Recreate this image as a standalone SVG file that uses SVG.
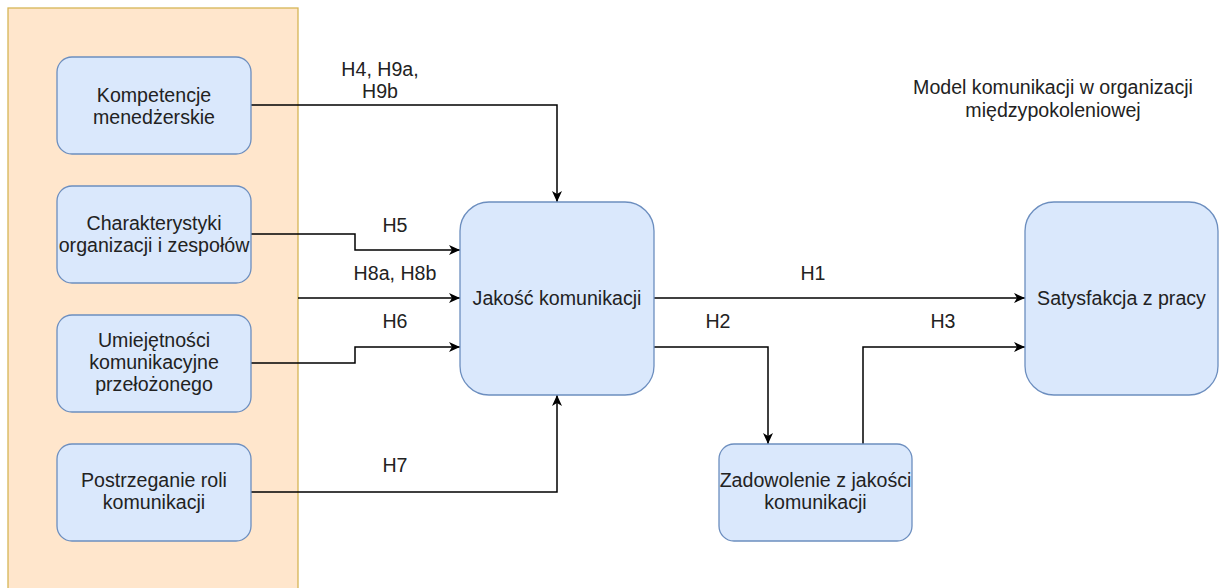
<svg xmlns="http://www.w3.org/2000/svg" width="1224" height="588" viewBox="0 0 1224 588">
<defs>
<style>
.box{fill:#dae8fc;stroke:#6c8ebf;stroke-width:1.3}
.t{font-family:"Liberation Sans",Arial,sans-serif;font-size:19.6px;fill:#222;text-anchor:middle}
.c{fill:none;stroke:#000;stroke-width:1.5}
</style>
<marker id="arr" markerUnits="userSpaceOnUse" markerWidth="12" markerHeight="10" refX="11" refY="5" orient="auto" viewBox="0 0 12 10">
<path d="M0,0 L11,5 L0,10 L3,5 Z" fill="#000"/>
</marker>
</defs>
<rect width="1224" height="588" fill="#fff"/>
<g id="container">
<rect x="8" y="8" width="290" height="590" fill="#ffe6cc" stroke="#d6b656" stroke-width="1.3"/>
</g>
<g id="connectors">
<path class="c" d="M251,105 H557 V202" marker-end="url(#arr)"/>
<path class="c" d="M251,234 H355 V250 H460" marker-end="url(#arr)"/>
<path class="c" d="M298,298 H460" marker-end="url(#arr)"/>
<path class="c" d="M251,363 H355 V347 H460" marker-end="url(#arr)"/>
<path class="c" d="M251,492 H557 V395" marker-end="url(#arr)"/>
<path class="c" d="M654,298 H1025" marker-end="url(#arr)"/>
<path class="c" d="M654,347 H768 V444" marker-end="url(#arr)"/>
<path class="c" d="M863,444 V347 H1025" marker-end="url(#arr)"/>
</g>
<g id="labels">
<text class="t" x="380" y="76">H4, H9a,</text>
<text class="t" x="380" y="98">H9b</text>
<text class="t" x="395" y="232">H5</text>
<text class="t" x="395" y="280">H8a, H8b</text>
<text class="t" x="395" y="328">H6</text>
<text class="t" x="395" y="472">H7</text>
<text class="t" x="813" y="280">H1</text>
<text class="t" x="718" y="328">H2</text>
<text class="t" x="943" y="328">H3</text>
</g>
<g id="title">
<text class="t" x="1053" y="94">Model komunikacji w organizacji</text>
<text class="t" x="1053" y="117">międzypokoleniowej</text>
</g>
<g id="n-kompetencje">
<rect class="box" x="57" y="57" width="194" height="97" rx="15"/>
<text class="t" x="154" y="102">Kompetencje</text>
<text class="t" x="154" y="124">menedżerskie</text>
</g>
<g id="n-charakterystyki">
<rect class="box" x="57" y="186" width="194" height="97" rx="15"/>
<text class="t" x="154" y="230">Charakterystyki</text>
<text class="t" x="154" y="252">organizacji i zespołów</text>
</g>
<g id="n-umiejetnosci">
<rect class="box" x="57" y="315" width="194" height="97" rx="15"/>
<text class="t" x="154" y="347">Umiejętności</text>
<text class="t" x="154" y="369">komunikacyjne</text>
<text class="t" x="154" y="391">przełożonego</text>
</g>
<g id="n-postrzeganie">
<rect class="box" x="57" y="444" width="194" height="97" rx="15"/>
<text class="t" x="154" y="487">Postrzeganie roli</text>
<text class="t" x="154" y="509">komunikacji</text>
</g>
<g id="n-jakosc">
<rect class="box" x="460" y="202" width="194" height="193" rx="29"/>
<text class="t" x="557" y="305">Jakość komunikacji</text>
</g>
<g id="n-satysfakcja">
<rect class="box" x="1025" y="202" width="193" height="193" rx="29"/>
<text class="t" x="1121.5" y="305">Satysfakcja z pracy</text>
</g>
<g id="n-zadowolenie">
<rect class="box" x="719" y="444" width="193" height="97" rx="15"/>
<text class="t" x="815.5" y="487">Zadowolenie z jakości</text>
<text class="t" x="815.5" y="509">komunikacji</text>
</g>
</svg>
